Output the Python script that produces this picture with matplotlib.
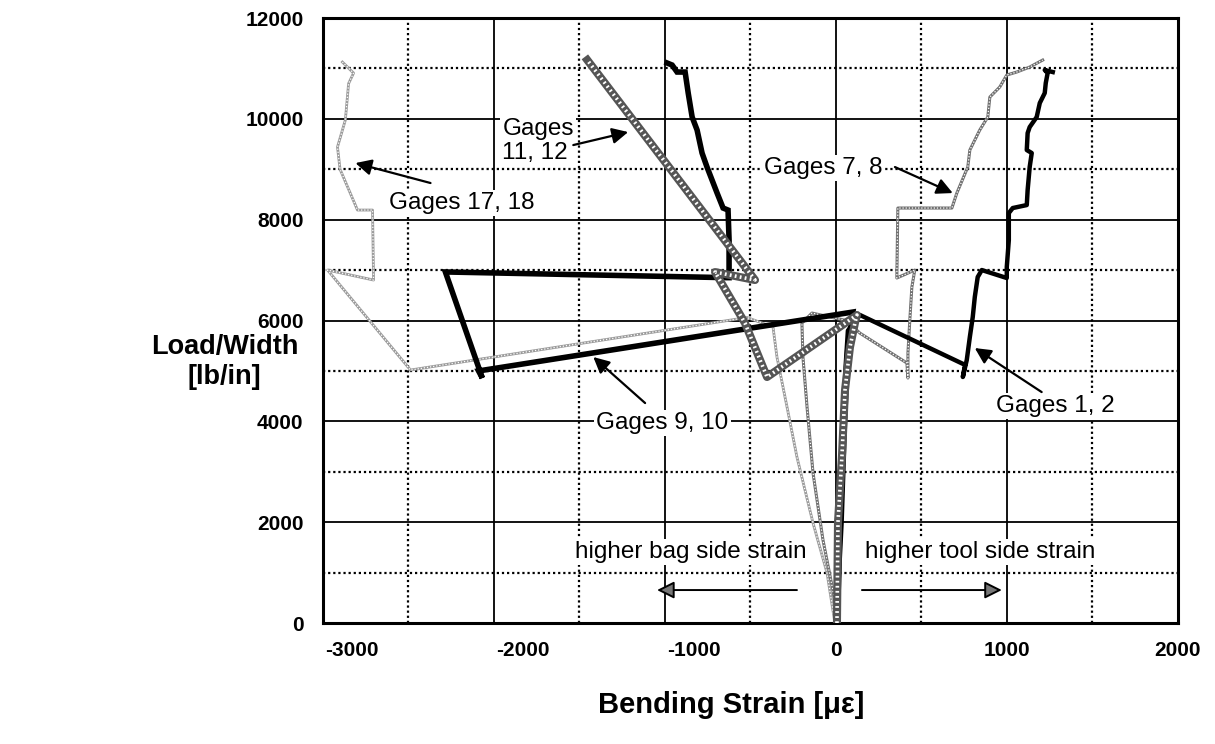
import matplotlib
matplotlib.use("Agg")
import matplotlib.pyplot as plt
from matplotlib.transforms import ScaledTranslation
from matplotlib.ticker import MultipleLocator

plt.rcParams['font.family'] = ['Liberation Sans', 'DejaVu Sans']
plt.rcParams['axes.unicode_minus'] = False

# ---------------- data (strain in micro-strain, load in lb/in) ----------------
g12_x = [10, 20, 25, 35, 45, 55, 70, 140, 755, 742, 765, 783, 800, 812, 829, 853,
         999, 999, 1011, 1011, 1034, 1116, 1121, 1133, 1145, 1116, 1121, 1133, 1174,
         1192, 1221, 1227, 1238, 1221, 1268]
g12_y = [0, 1000, 2000, 3000, 4000, 5000, 5800, 6110, 5120, 4880, 5216, 5672, 6069,
         6466, 6862, 7001, 6843, 7061, 7596, 8132, 8231, 8290, 8588, 9044, 9322, 9381,
         9718, 9837, 10036, 10313, 10512, 10710, 10908, 10968, 10928]

g910_x = [0, 30, 50, 70, 99, -2090, -2068, -2284, -640, -625, -625, -631, -660, -695,
          -754, -783, -812, -841, -864, -882, -929, -958, -987]
g910_y = [0, 2000, 4000, 5500, 6168, 5000, 4860, 6963, 6850, 6850, 7600, 8191, 8231,
          8528, 9044, 9322, 9778, 10036, 10512, 10928, 10928, 11067, 11107]

g1112_x = [6, 12, 35, 53, 82, 111, 123, -403, -532, -707, -473, -1454]
g1112_y = [0, 2000, 3300, 4620, 5470, 5950, 6110, 4879, 5950, 6961, 6803, 11166]

g78_x = [12, -18, -76, -134, -169, -193, -199, -140, 60, 140, 415, 421, 421, 432, 444,
         461, 356, 362, 678, 707, 771, 783, 841, 888, 900, 958, 999, 1057, 1133, 1209]
g78_y = [0, 650, 1650, 2975, 4284, 5276, 5950, 6148, 6000, 5750, 5157, 4859, 5355,
         6009, 6664, 7001, 6843, 8231, 8231, 8528, 9044, 9381, 9778, 10036, 10432,
         10631, 10869, 10928, 11027, 11166]

g1718_x = [-6, -52, -134, -228, -286, -345, -368, -520, -2488, -2973, -2704, -2710,
           -2798, -2900, -2915, -2869, -2850, -2821, -2886]
g1718_y = [0, 992, 1983, 3292, 4284, 5276, 5870, 6060, 5018, 7001, 6803, 8191, 8191,
           9000, 9441, 9976, 10700, 10908, 11126]

x_ticks = [-3000, -2000, -1000, 0, 1000, 2000]
y_ticks = [0, 2000, 4000, 6000, 8000, 10000, 12000]

# ---------------- figure ----------------
fig = plt.figure(figsize=(12.15, 7.44), dpi=100)
ax = fig.add_axes([0.2658, 0.1626, 0.9695 - 0.2658, 0.9758 - 0.1626])
ax.set_xlim(-3000, 2000)
ax.set_ylim(0, 12000)

ax.set_xticks(x_ticks)
ax.set_yticks(y_ticks)
ax.xaxis.set_minor_locator(MultipleLocator(500))
ax.yaxis.set_minor_locator(MultipleLocator(1000))
ax.grid(which='major', color='black', linewidth=1.3, linestyle='-')
ax.grid(which='minor', color='black', linewidth=1.6, linestyle=(0, (1, 1.3)))
ax.set_axisbelow(True)
ax.tick_params(which='both', length=0)
ax.tick_params(axis='x', pad=13, labelsize=15)
ax.tick_params(axis='y', pad=14, labelsize=15)
for lab in ax.get_xticklabels() + ax.get_yticklabels():
    lab.set_fontweight('bold')
for lab, v in zip(ax.get_xticklabels(), x_ticks):
    if v < 0:
        lab.set_transform(lab.get_transform() + ScaledTranslation(0.29, 0, fig.dpi_scale_trans))
for sp in ax.spines.values():
    sp.set_linewidth(2.2)

# thin wavy series
ax.plot(g1718_x, g1718_y, color='#9a9a9a', lw=2.0, zorder=3)
ax.plot(g1718_x, g1718_y, color='white', lw=0.9, ls=(0, (1, 1.5)), zorder=3)
ax.plot(g78_x, g78_y, color='#707070', lw=2.2, zorder=3)
ax.plot(g78_x, g78_y, color='white', lw=0.9, ls=(0, (1, 1.5)), zorder=3)
# thick black series
ax.plot(g910_x, g910_y, color='black', lw=4.0, zorder=4, solid_joinstyle='miter')
ax.plot(g12_x, g12_y, color='black', lw=3.2, zorder=4)
# checkered series
ax.plot(g1112_x, g1112_y, color='#555555', lw=5.8, zorder=5)
ax.plot(g1112_x, g1112_y, color='white', lw=2.6, ls=(0, (0.5, 0.9)), zorder=5)

# ---------------- annotations ----------------
tk = dict(fontsize=17.5, zorder=6)
wb = dict(facecolor='white', edgecolor='none', pad=1.5)
arr = dict(arrowstyle='-|>', color='black', lw=1.6, mutation_scale=24, shrinkA=0, shrinkB=0)
arr_g = dict(arrowstyle='-|>', color='black', fc='#777777', lw=1.4, mutation_scale=26,
             shrinkA=0, shrinkB=0)

ax.text(-1741, 9560, 'Gages\n11, 12', ha='center', va='center', linespacing=1.1,
        multialignment='left', bbox=wb, **tk)
ax.annotate('', xy=(-1215, 9738), xytext=(-1536, 9480), arrowprops=arr, zorder=6)

ax.text(-2190, 8330, 'Gages 17, 18', ha='center', va='center', bbox=wb, **tk)
ax.annotate('', xy=(-2810, 9123), xytext=(-2371, 8727), arrowprops=arr, zorder=6)

ax.text(-76, 9024, 'Gages 7, 8', ha='center', va='center', bbox=wb, **tk)
ax.annotate('', xy=(683, 8528), xytext=(345, 9044), arrowprops=arr, zorder=6)

ax.text(-1016, 3967, 'Gages 9, 10', ha='center', va='center', bbox=wb, **tk)
ax.annotate('', xy=(-1419, 5276), xytext=(-1116, 4363), arrowprops=arr, zorder=6)

ax.text(1285, 4304, 'Gages 1, 2', ha='center', va='center', bbox=wb, **tk)
ax.annotate('', xy=(812, 5454), xytext=(1203, 4581), arrowprops=arr, zorder=6)

ax.text(-847, 1410, 'higher bag side strain', ha='center', va='center', bbox=wb, **tk)
ax.text(845, 1410, 'higher tool side strain', ha='center', va='center', bbox=wb, **tk)
ax.annotate('', xy=(-1046, 654), xytext=(-228, 654), arrowprops=arr_g, zorder=6)
ax.annotate('', xy=(970, 654), xytext=(152, 654), arrowprops=arr_g, zorder=6)

# axis labels
fig.text(0.185, 0.514, 'Load/Width\n[lb/in]', ha='center', va='center', fontsize=19.5,
         fontweight='bold', linespacing=1.2)
fig.text(0.602, 0.052, 'Bending Strain [\u03bc\u03b5]', ha='center', va='center',
         fontsize=21, fontweight='bold')

fig.savefig('out.png', dpi=100)
